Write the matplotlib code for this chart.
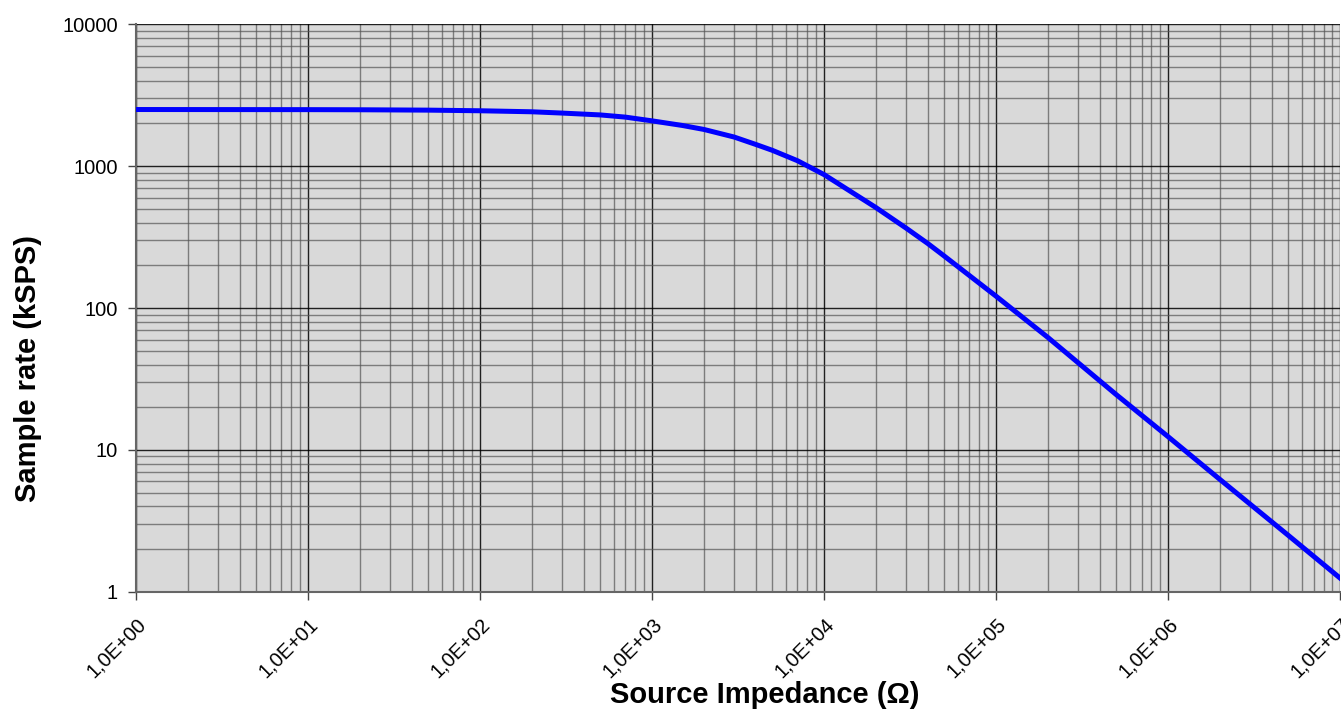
import math
import matplotlib
matplotlib.use("Agg")
import matplotlib.pyplot as plt
from matplotlib.ticker import FixedLocator, LogLocator, NullFormatter, FuncFormatter

# source impedance (ohm) and sample rate (kSPS)
impedance = [1, 10, 20, 50, 100, 200, 300, 500, 700, 1e3, 1.5e3, 2e3, 3e3, 4e3,
             5e3, 7e3, 1e4, 2e4, 3e4, 4e4, 5e4, 1e5, 2e5, 5e5, 1e6, 2e6, 5e6, 1e7]
sample_rate = [2500, 2495, 2490, 2475, 2450, 2410, 2360, 2290, 2210, 2080, 1930,
               1810, 1600, 1420, 1290, 1090, 870, 510, 365, 285, 232, 121, 62,
               24.5, 12.4, 6.2, 2.5, 1.25]

x_ticks = [1e0, 1e1, 1e2, 1e3, 1e4, 1e5, 1e6, 1e7]
y_ticks = [1, 10, 100, 1000, 10000]


def main():
    plt.rcParams["font.family"] = ["Liberation Sans", "DejaVu Sans"]
    fig = plt.figure(figsize=(13.41, 7.11), dpi=100)
    ax = fig.add_axes([0.1014, 0.1674, 0.898, 0.7988])
    ax.set_facecolor("#d9d9d9")

    ax.plot(impedance, sample_rate, color="#0000ff", lw=3.6,
            solid_joinstyle="round", zorder=3)

    ax.set_xscale("log")
    ax.set_yscale("log")
    ax.set_xlim(1, 1e7)
    ax.set_ylim(1, 10000)

    ax.xaxis.set_major_locator(FixedLocator(x_ticks))
    ax.yaxis.set_major_locator(FixedLocator(y_ticks))
    ax.xaxis.set_minor_locator(LogLocator(base=10, subs=range(2, 10), numticks=20))
    ax.yaxis.set_minor_locator(LogLocator(base=10, subs=range(2, 10), numticks=20))
    ax.xaxis.set_minor_formatter(NullFormatter())
    ax.yaxis.set_minor_formatter(NullFormatter())
    ax.xaxis.set_major_formatter(FuncFormatter(lambda v, p: "1,0E+%02d" % round(math.log10(v))))
    ax.yaxis.set_major_formatter(FuncFormatter(lambda v, p: "%d" % v))

    ax.grid(which="major", color="black", lw=1.0, alpha=0.85)
    ax.grid(which="minor", color="#555555", lw=1.0, alpha=0.7)
    ax.set_axisbelow(True)

    ax.tick_params(which="major", direction="out", length=6, width=1, color="#444444",
                   labelsize=14.5)
    ax.tick_params(axis="y", pad=7)
    ax.tick_params(axis="x", pad=10)
    ax.tick_params(which="minor", length=0)
    for lab in ax.get_xticklabels():
        lab.set_rotation(45)
        lab.set_ha("right")
        lab.set_va("top")
        lab.set_rotation_mode("anchor")

    for s in ["top", "right"]:
        ax.spines[s].set_visible(False)
    for s in ["left", "bottom"]:
        ax.spines[s].set_color("#666666")
        ax.spines[s].set_linewidth(1.5)

    ax.set_xlabel("Source Impedance (Ω)", fontsize=21, fontweight="bold")
    ax.set_ylabel("Sample rate (kSPS)", fontsize=21, fontweight="bold")
    ax.xaxis.set_label_coords(0.522, -0.157)
    ax.yaxis.set_label_coords(-0.078, 0.393)
    return fig, ax


if __name__ == "__main__":
    fig, ax = main()
    fig.savefig("out.png", dpi=100)
